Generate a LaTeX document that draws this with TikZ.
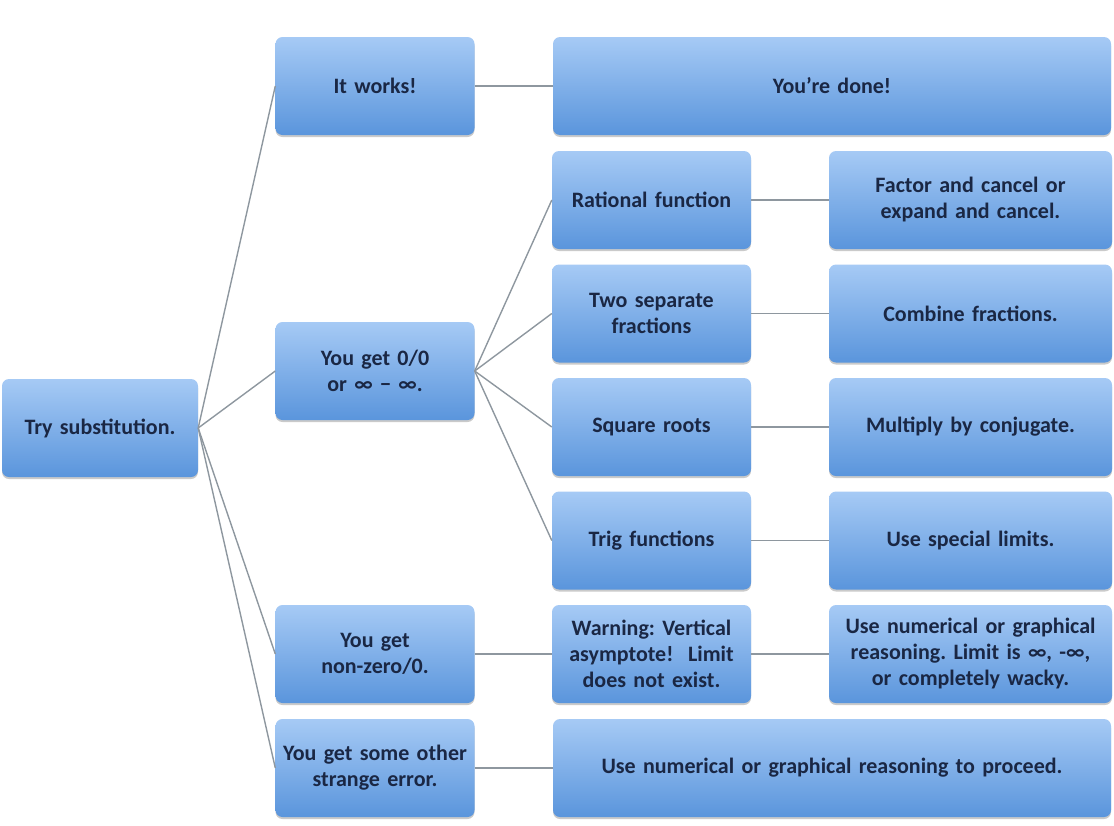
\documentclass[tikz,border=0pt]{standalone}
\usepackage{fontspec}
\setmainfont{Carlito}
\usetikzlibrary{shadows}
\definecolor{boxtop}{HTML}{A6CAF5}
\definecolor{boxbot}{HTML}{5A95DC}
\definecolor{txt}{HTML}{1A2744}
\definecolor{conn}{HTML}{8E979F}
\tikzset{
  fbox/.style={rounded corners=7pt, top color=boxtop, bottom color=boxbot,
    draw=none, minimum height=98pt, align=center, text=txt,
    font=\fontsize{22}{26}\selectfont\bfseries, inner sep=2pt,
    drop shadow={shadow xshift=0pt, shadow yshift=-2pt, opacity=0.35, fill=black!60}},
  wa/.style={fbox, minimum width=194pt, text width=192pt},
  wb/.style={fbox, minimum width=197pt, text width=195pt},
  wc/.style={fbox, minimum width=281pt, text width=279pt},
  wd/.style={fbox, minimum width=558pt, text width=550pt},
  link/.style={draw=conn, line width=1.4pt}
}
\begin{document}
\frenchspacing
\begin{tikzpicture}[x=1pt,y=-1pt]
\useasboundingbox (0,0) rectangle (1114,825);
\node[wa] (try) at (100,428) {Try substitution.};
\node[wb] (works) at (375,86) {It works!};
\node[wd] (done) at (832,86) {You’re done!};
\node[wb] (zero) at (375,371) {You get 0/0\\or ∞ − ∞.};
\node[wb] (rat) at (651.5,200) {Rational function};
\node[wc] (fac) at (970.5,200) {Factor and cancel or\\expand and cancel.};
\node[wb] (two) at (651.5,313.5) {Two separate\\fractions};
\node[wc] (comb) at (970.5,313.5) {Combine fractions.};
\node[wb] (sq) at (651.5,427) {Square roots};
\node[wc] (conj) at (970.5,427) {Multiply by conjugate.};
\node[wb] (trig) at (651.5,540.5) {Trig functions};
\node[wc] (spec) at (970.5,540.5) {Use special limits.};
\node[wb] (nz) at (375,654) {You get\\non-zero/0.};
\node[wb] (warn) at (651.5,654) {Warning: Vertical\\asymptote!\ \ Limit\\does not exist.};
\node[wc] (numer) at (970.5,654) {Use numerical or graphical\\reasoning. Limit is ∞, -∞,\\or completely wacky.};
\node[wb] (other) at (375,768) {You get some other\\strange error.};
\node[wd] (proc) at (832,768) {Use numerical or graphical reasoning to proceed.};
\foreach \c in {works,zero,nz,other} \draw[link] (try.east) -- (\c.west);
\foreach \c in {rat,two,sq,trig} \draw[link] (zero.east) -- (\c.west);
\draw[link] (works) -- (done);
\draw[link] (rat) -- (fac);
\draw[link] (two) -- (comb);
\draw[link] (sq) -- (conj);
\draw[link] (trig) -- (spec);
\draw[link] (nz) -- (warn);
\draw[link] (warn) -- (numer);
\draw[link] (other) -- (proc);
\end{tikzpicture}
\end{document}
